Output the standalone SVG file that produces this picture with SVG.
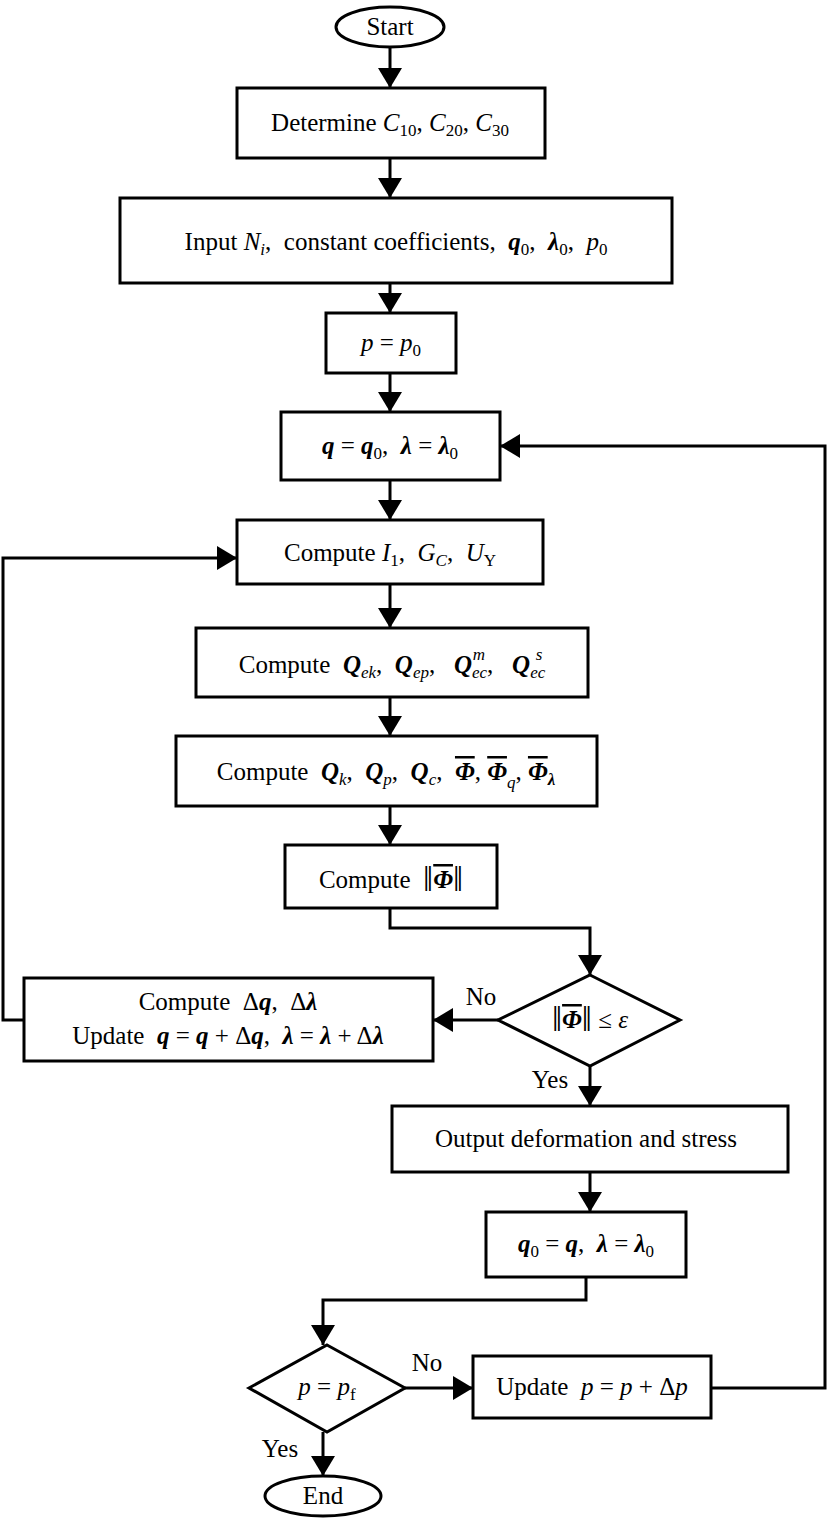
<svg xmlns="http://www.w3.org/2000/svg" width="827" height="1520" viewBox="0 0 827 1520">
<defs>
<style>
.n{fill:#fff;stroke:#000;stroke-width:3}
.c{fill:none;stroke:#000;stroke-width:3}
text{font-family:"Liberation Serif","Times New Roman",serif;font-size:25px;fill:#000;text-anchor:middle;white-space:pre}
.b{font-weight:bold;font-style:italic}
.i{font-style:italic}
.s{font-size:17px}
.o{text-decoration:overline}
.v{font-size:36px}
</style>
<marker id="m" viewBox="0 0 20 24" refX="20" refY="12" markerWidth="20" markerHeight="24" orient="auto" markerUnits="userSpaceOnUse"><path d="M0,0L20,12L0,24z" fill="#000"/></marker>
</defs>
<g id="connectors">
<path class="c" marker-end="url(#m)" d="M390,47V88"/>
<path class="c" marker-end="url(#m)" d="M390,158V198"/>
<path class="c" marker-end="url(#m)" d="M390,283V313"/>
<path class="c" marker-end="url(#m)" d="M390,373V412"/>
<path class="c" marker-end="url(#m)" d="M390,480V520"/>
<path class="c" marker-end="url(#m)" d="M390,584V628"/>
<path class="c" marker-end="url(#m)" d="M390,697V736"/>
<path class="c" marker-end="url(#m)" d="M390,806V845"/>
<path class="c" marker-end="url(#m)" d="M390,908V928H590V975"/>
<path class="c" marker-end="url(#m)" d="M498,1020H433"/>
<path class="c" marker-end="url(#m)" d="M590,1066V1106"/>
<path class="c" marker-end="url(#m)" d="M24,1020H3V558H237"/>
<path class="c" marker-end="url(#m)" d="M590,1172V1212"/>
<path class="c" marker-end="url(#m)" d="M586,1277V1300H323V1345"/>
<path class="c" marker-end="url(#m)" d="M405,1388H473"/>
<path class="c" marker-end="url(#m)" d="M323,1432V1476"/>
<path class="c" marker-end="url(#m)" d="M711,1388H825V446H500"/>
<text x="481" y="1005">No</text>
<text x="550" y="1088">Yes</text>
<text x="427" y="1371">No</text>
<text x="280" y="1457">Yes</text>
</g>
<g id="start"><ellipse class="n" cx="390" cy="27" rx="54" ry="20"/><text x="390" y="35">Start</text></g>
<g id="determine"><rect class="n" x="237" y="88" width="308" height="70"/><text x="390" y="131">Determine <tspan class="i">C</tspan><tspan class="s" dy="5">10</tspan><tspan dy="-5">, </tspan><tspan class="i">C</tspan><tspan class="s" dy="5">20</tspan><tspan dy="-5">, </tspan><tspan class="i">C</tspan><tspan class="s" dy="5">30</tspan></text></g>
<g id="input"><rect class="n" x="120" y="198" width="552" height="85"/><text x="396" y="250">Input <tspan class="i">N</tspan><tspan class="s i" dy="5">i</tspan><tspan dy="-5">,  constant coefficients,  </tspan><tspan class="b">q</tspan><tspan class="s" dy="5">0</tspan><tspan dy="-5">,  </tspan><tspan class="b">λ</tspan><tspan class="s" dy="5">0</tspan><tspan dy="-5">,  </tspan><tspan class="i">p</tspan><tspan class="s" dy="5">0</tspan></text></g>
<g id="p0"><rect class="n" x="326" y="313" width="130" height="60"/><text x="391" y="351"><tspan class="i">p</tspan> = <tspan class="i">p</tspan><tspan class="s" dy="5">0</tspan></text></g>
<g id="q0"><rect class="n" x="281" y="412" width="219" height="68"/><text x="390" y="454"><tspan class="b">q</tspan> = <tspan class="b">q</tspan><tspan class="s" dy="5">0</tspan><tspan dy="-5">,  </tspan><tspan class="b">λ</tspan> = <tspan class="b">λ</tspan><tspan class="s" dy="5">0</tspan></text></g>
<g id="computeI"><rect class="n" x="237" y="520" width="306" height="64"/><text x="390" y="561">Compute <tspan class="i">I</tspan><tspan class="s" dy="5">1</tspan><tspan dy="-5">,  </tspan><tspan class="i">G</tspan><tspan class="s i" dy="5">C</tspan><tspan dy="-5">,  </tspan><tspan class="i">U</tspan><tspan class="s" dy="5">Y</tspan></text></g>
<g id="computeQe"><rect class="n" x="196" y="628" width="392" height="69"/><text x="392" y="673">Compute  <tspan class="b">Q</tspan><tspan class="s i" dy="5">ek</tspan><tspan dy="-5">,  </tspan><tspan class="b">Q</tspan><tspan class="s i" dy="5">ep</tspan><tspan dy="-5">,   </tspan><tspan class="b">Q</tspan><tspan class="s i" dy="5">ec</tspan><tspan dy="-5">,   </tspan><tspan class="b">Q</tspan><tspan class="s i" dy="5">ec</tspan></text>
<text x="479" y="660" class="s i">m</text><text x="539" y="660" class="s i">s</text></g>
<g id="computeQ"><rect class="n" x="176" y="736" width="421" height="70"/><text x="386" y="780">Compute  <tspan class="b">Q</tspan><tspan class="s i" dy="5">k</tspan><tspan dy="-5">,  </tspan><tspan class="b">Q</tspan><tspan class="s i" dy="5">p</tspan><tspan dy="-5">,  </tspan><tspan class="b">Q</tspan><tspan class="s i" dy="5">c</tspan><tspan dy="-5">,  </tspan><tspan class="b o">Φ</tspan>, <tspan class="b o">Φ</tspan><tspan class="s i" dy="8">q</tspan><tspan dy="-8">, </tspan><tspan class="b o">Φ</tspan><tspan class="s b" dy="5">λ</tspan></text></g>
<g id="norm"><rect class="n" x="285" y="845" width="212" height="63"/><text x="391" y="888">Compute  <tspan class="v" dy="3">‖</tspan><tspan class="b o" dy="-3">Φ</tspan><tspan class="v" dy="3">‖</tspan></text></g>
<g id="check"><path class="n" d="M590,975L680,1020L590,1066L498,1020Z"/><text x="590" y="1028"><tspan class="v" dy="3">‖</tspan><tspan class="b o" dy="-3">Φ</tspan><tspan class="v" dy="3">‖</tspan><tspan dy="-3"> ≤ </tspan><tspan class="i">ε</tspan></text></g>
<g id="update"><rect class="n" x="24" y="978" width="409" height="83"/><text x="228" y="1010">Compute  Δ<tspan class="b">q</tspan>,  Δ<tspan class="b">λ</tspan></text><text x="228" y="1044">Update  <tspan class="b">q</tspan> = <tspan class="b">q</tspan> + Δ<tspan class="b">q</tspan>,  <tspan class="b">λ</tspan> = <tspan class="b">λ</tspan> + Δ<tspan class="b">λ</tspan></text></g>
<g id="output"><rect class="n" x="392" y="1106" width="396" height="66"/><text x="586" y="1147">Output deformation and stress</text></g>
<g id="reset"><rect class="n" x="486" y="1212" width="200" height="65"/><text x="586" y="1252"><tspan class="b">q</tspan><tspan class="s" dy="5">0</tspan><tspan dy="-5"> = </tspan><tspan class="b">q</tspan>,  <tspan class="b">λ</tspan> = <tspan class="b">λ</tspan><tspan class="s" dy="5">0</tspan></text></g>
<g id="checkp"><path class="n" d="M327,1345L405,1388L327,1432L249,1388Z"/><text x="327" y="1395"><tspan class="i">p</tspan> = <tspan class="i">p</tspan><tspan class="s" dy="5">f</tspan></text></g>
<g id="updatep"><rect class="n" x="473" y="1356" width="238" height="62"/><text x="592" y="1395">Update  <tspan class="i">p</tspan> = <tspan class="i">p</tspan> + Δ<tspan class="i">p</tspan></text></g>
<g id="end"><ellipse class="n" cx="323" cy="1496" rx="58" ry="20"/><text x="323" y="1504">End</text></g>
</svg>
